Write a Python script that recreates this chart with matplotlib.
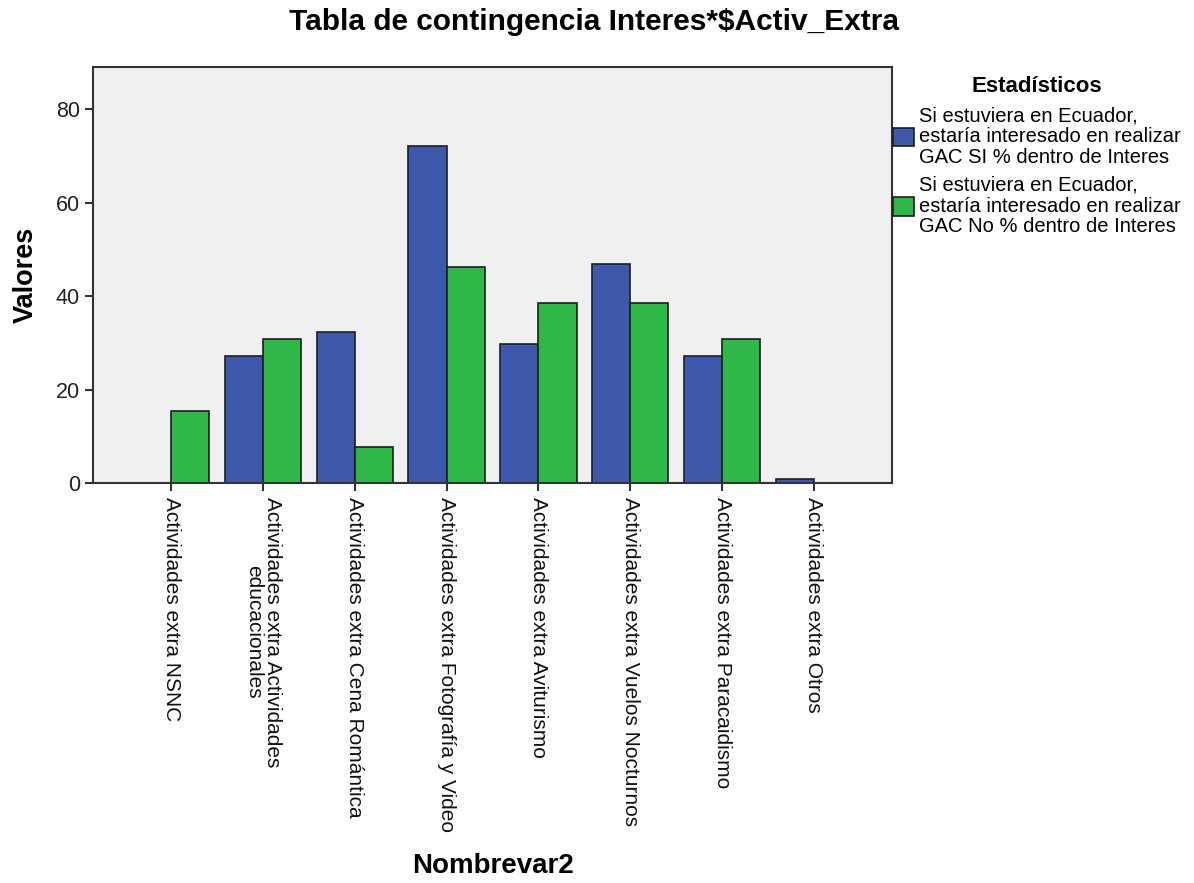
import matplotlib
matplotlib.use("Agg")
import matplotlib.pyplot as plt
import numpy as np

plt.rcParams['font.family'] = ['Liberation Sans', 'DejaVu Sans']

categories = [
    "Actividades extra NSNC",
    "Actividades extra Actividades\neducacionales",
    "Actividades extra Cena Romántica",
    "Actividades extra Fotografía y Video",
    "Actividades extra Aviturismo",
    "Actividades extra Vuelos Nocturnos",
    "Actividades extra Paracaidismo",
    "Actividades extra Otros",
]
si_values = [0.0, 27.2, 32.4, 72.0, 29.7, 46.9, 27.2, 0.9]
no_values = [15.4, 30.8, 7.7, 46.2, 38.5, 38.5, 30.8, 0.0]
series_labels = [
    "Si estuviera en Ecuador,\nestaría interesado en realizar\nGAC SI % dentro de Interes",
    "Si estuviera en Ecuador,\nestaría interesado en realizar\nGAC No % dentro de Interes",
]
yticks = [0, 20, 40, 60, 80]

fig = plt.figure(figsize=(11.94, 8.83), dpi=100)
ax = fig.add_axes([93/1194, 1-483/883, (892-93)/1194, (483-67)/883])
ax.set_facecolor('#F0F0F0')

x = np.arange(len(categories))
w = 0.415
b1 = ax.bar(x - w/2, si_values, w, color='#3E58AC', edgecolor='#1E1E1E', linewidth=1.2, label=series_labels[0])
b2 = ax.bar(x + w/2, no_values, w, color='#2EB848', edgecolor='#1E1E1E', linewidth=1.2, label=series_labels[1])

ax.set_xlim(-0.85, len(categories) - 1 + 0.85)
ax.set_ylim(0, 89)
ax.set_yticks(yticks)
ax.set_yticklabels([str(v) for v in yticks], fontsize=15.5, color='#222222')
ax.set_xticks(x)
ax.set_xticklabels(categories, rotation=270, ha='center', va='top', fontsize=15, color='#111111')
for t in ax.get_xticklabels():
    t.set_linespacing(1.0)
ax.tick_params(axis='both', direction='out', length=6, width=1.5, color='#333333')
ax.tick_params(axis='x', pad=4)
for s in ax.spines.values():
    s.set_color('#333333')
    s.set_linewidth(1.5)

ax.set_ylabel('Valores', fontsize=19.5, fontweight='bold', labelpad=12)
fig.text(493/1194, 1-866/883, 'Nombrevar2', ha='center', va='center', fontsize=20, fontweight='bold')
fig.text(594/1194, 1-22/883, 'Tabla de contingencia Interes*$Activ_Extra', ha='center', va='center',
         fontsize=21.5, fontweight='bold')

leg = fig.legend(handles=[b1, b2], labels=series_labels, loc='upper left',
                 bbox_to_anchor=(891/1194, 1-74/883), frameon=False, fontsize=14.5,
                 title='Estadísticos', title_fontproperties={'weight': 'bold', 'size': 16},
                 handlelength=1.05, handleheight=1.05, handletextpad=0.25, borderpad=0.1,
                 labelspacing=0.45, borderaxespad=0)
for t in leg.get_texts():
    t.set_linespacing(1.12)

fig.savefig('out.png', dpi=100)
